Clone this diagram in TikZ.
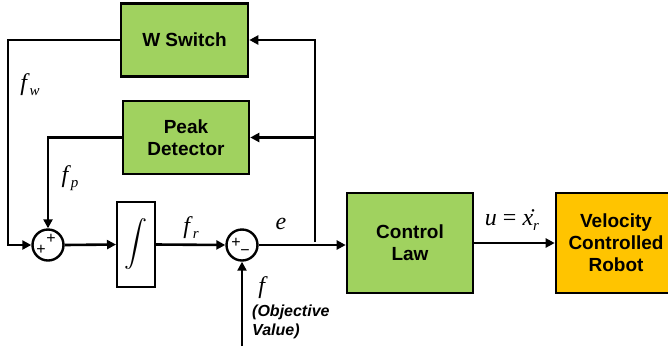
\documentclass[tikz,border=0pt]{standalone}
\usepackage{fontspec}
\usepackage{graphicx}
\setmainfont{Liberation Serif}
\setsansfont{Liberation Sans}
\usetikzlibrary{arrows.meta}
\definecolor{boxgreen}{RGB}{160,210,95}
\definecolor{boxyellow}{RGB}{255,196,0}
\newcommand\mvar[2]{\textit{#1}\raisebox{-0.45ex}{\fontsize{15}{15}\selectfont\textit{#2}}}
\tikzset{
  blk/.style={draw=black, line width=2.6pt, fill=boxgreen, align=center,
    font=\sffamily\bfseries\fontsize{19}{22}\selectfont, inner sep=0pt},
  intbox/.style={draw=black, line width=2pt, fill=white, inner sep=0pt},
  sumc/.style={circle, draw=black, line width=2.4pt, fill=white, minimum size=31pt, inner sep=0pt},
  wire/.style={line width=2.6pt, -{Triangle[length=9pt,width=9pt]}},
  lbl/.style={font=\fontsize{24}{24}\selectfont, inner sep=0pt},
  sgn/.style={font=\sffamily\fontsize{16}{16}\selectfont, inner sep=0pt}
}
\begin{document}
\begin{tikzpicture}[x=1pt,y=-1pt]
\clip (0,0) rectangle (668,354);
\useasboundingbox (0,0) rectangle (668,354);
\node[blk, minimum width=127pt, minimum height=73pt] (ws) at (184.5,40) {W Switch};
\node[blk, minimum width=126pt, minimum height=73pt] (pd) at (186,137.5) {Peak\\Detector};
\node[sumc] (s1) at (48,245) {};
\node[sumc] (s2) at (242,245) {};
\node[intbox, minimum width=38pt, minimum height=85pt] (int) at (136,244.5) {\scalebox{2.3}{$\displaystyle\int$}};
\node[blk, minimum width=126pt, minimum height=100pt] (cl) at (410,243) {Control\\Law};
\node[blk, fill=boxyellow, minimum width=120pt, minimum height=100pt] (rb) at (616,243) {Velocity\\Controlled\\Robot};
% signs
\node[sgn] (p1a) at (41,250) {+};
\node[sgn] (p1b) at (51,239) {+};
\node[sgn] (p2a) at (236,243) {+};
\node[sgn] (p2b) at (245,253) {\textminus};
% junctions
\coordinate (j) at (315,242);
\coordinate (bot) at (242,346);
% connectors
\draw[wire] (j) |- (ws.east);
\draw[wire] (315,137.5) -- (pd.east);
\draw[wire] (ws.west) -| (8,245) -- (s1.west);
\draw[wire] (pd.west) -| (s1.north);
\draw[wire] (s1.east) -- (int.west);
\draw[wire] (int.east) -- (s2.west);
\draw[wire] (s2.east) -- (cl.west |- s2.east);
\draw[wire] (cl.east) -- (rb.west);
\draw[wire] (bot) -- (s2.south);
% labels
\node[lbl] (fw) at (30,85) {\mvar{f}{w}};
\node[lbl] (fp) at (70,178) {\mvar{f}{p}};
\node[lbl] (fr) at (191,228) {\mvar{f}{r}};
\node[lbl] (e) at (281,224) {\textit{e}};
\node[lbl] (u) at (512,220) {\textit{u} = \.{\textit{x}}\raisebox{-0.45ex}{\fontsize{15}{15}\selectfont\textit{r}}};
\node[lbl] (f) at (263,288) {\textit{f}};
\node[font=\sffamily\bfseries\itshape\fontsize{16}{19}\selectfont, align=left, inner sep=0pt, anchor=north west] (ov) at (252,305) {(Objective\\Value)};
\end{tikzpicture}
\end{document}
